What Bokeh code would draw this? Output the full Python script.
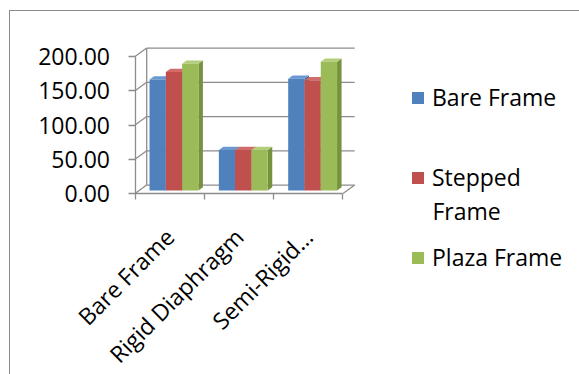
import math
from bokeh.plotting import figure
from bokeh.models import (Range1d, FixedTicker, NumeralTickFormatter, Legend,
                          LegendItem, Label)
from bokeh.embed import file_html
from bokeh.resources import INLINE

# ---- data ----
categories = ["Bare Frame", "Rigid Diaphragm", "Semi-Rigid…"]
series_names = ["Bare Frame", "Stepped Frame", "Plaza Frame"]
bare_frame = [162, 59, 163]
stepped_frame = [173, 59, 161]
plaza_frame = [185, 59, 188]
y_ticks = [0, 50, 100, 150, 200]

series = [bare_frame, stepped_frame, plaza_frame]
front_colors = ["#4F81BD", "#C0504D", "#9BBB59"]
side_colors = ["#3A6397", "#983C3A", "#77923F"]
top_colors = ["#6A98D0", "#D06C69", "#B2CE7A"]
grid_color = "#8C8C8C"
FONT = "Open Sans"
FS = "23px"

# ---- layout / pseudo-3D geometry ----
PXX, PXY = 69.33, 0.685    # pixels per data unit
LEFT_PX, RIGHT_PX = 124.5, 445.5
ABOVE_PX, BELOW_PX = 162, 182
DXW, DYW = 0.169, 12.3     # depth of back wall
DXB, DYB = 0.062, 4.4      # bar plane offset
W = 0.235                  # bar width
DDX, DDY = 0.065, 4.8      # bar depth
n = len(categories)
ymax = y_ticks[-1]

p = figure(width=570, height=364, output_backend="svg", toolbar_location=None,
           x_range=Range1d(-LEFT_PX / PXX, RIGHT_PX / PXX),
           y_range=Range1d(-BELOW_PX / PXY, ABOVE_PX / PXY),
           min_border_left=0, min_border_right=0, min_border_top=20,
           min_border_bottom=0, margin=(10, 0, 0, 9),
           styles={"border-left": "1.5px solid #8C8C8C",
                   "border-top": "1.5px solid #8C8C8C"})
p.outline_line_color = None
p.xgrid.visible = False
p.ygrid.visible = False

# walls
xs, ys = [], []
for v in y_ticks:
    xs.append([DXW, n + DXW]); ys.append([v + DYW, v + DYW])
    xs.append([0, DXW]); ys.append([v, v + DYW])
xs.append([DXW, DXW]); ys.append([DYW, ymax + DYW])
xs.append([n, n + DXW]); ys.append([0, DYW])
p.multi_line(xs, ys, line_color=grid_color, line_width=1.3)

# bars
renderers = []
for j, vals in enumerate(series):
    lefts, rights, bottoms, tops = [], [], [], []
    sx, sy, tx, ty = [], [], [], []
    for i, v in enumerate(vals):
        xl = i + 0.5 + DXB + (j - 1.5) * W
        xr = xl + W
        b = DYB
        t = DYB + v
        lefts.append(xl); rights.append(xr); bottoms.append(b); tops.append(t)
        sx.append([xr, xr + DDX, xr + DDX, xr]); sy.append([b, b + DDY, t + DDY, t])
        tx.append([xl, xr, xr + DDX, xl + DDX]); ty.append([t, t, t + DDY, t + DDY])
    p.patches(sx, sy, fill_color=side_colors[j], line_color=None)
    p.patches(tx, ty, fill_color=top_colors[j], line_color=None)
    r = p.quad(left=lefts, right=rights, bottom=bottoms, top=tops,
               fill_color=front_colors[j], line_color=None)
    renderers.append(r)

# axes
ya = p.yaxis[0]
ya.fixed_location = 0
ya.ticker = FixedTicker(ticks=y_ticks)
ya.formatter = NumeralTickFormatter(format="0.00")
ya.bounds = (0, ymax)
ya.axis_line_color = grid_color
ya.axis_line_width = 1.3
ya.major_tick_line_color = grid_color
ya.major_tick_line_width = 1.3
ya.major_tick_out = 7
ya.major_tick_in = 0
ya.minor_tick_line_color = None
ya.major_label_standoff = 18
ya.major_label_text_font = FONT
ya.major_label_text_font_size = FS
ya.major_label_text_color = "black"

xa = p.xaxis[0]
centers = [i + 0.5 for i in range(n)]
xa.fixed_location = 0
xa.ticker = FixedTicker(ticks=centers, minor_ticks=list(range(n + 1)))
xa.major_label_overrides = {c: lab for c, lab in zip(centers, categories)}
xa.bounds = (0, n)
xa.axis_line_color = grid_color
xa.axis_line_width = 1.3
xa.major_tick_line_color = None
xa.minor_tick_line_color = grid_color
xa.minor_tick_line_width = 1.3
xa.minor_tick_out = 6
xa.minor_tick_in = 0
xa.major_label_orientation = math.pi / 4
xa.major_label_standoff = 33
xa.major_label_text_font = FONT
xa.major_label_text_font_size = FS
xa.major_label_text_color = "black"

# legend (one block per entry, placed like the original)
leg_labels = ["Bare Frame", "Stepped", "Plaza Frame"]
locs = [(400, 262), (400, 182), (400, 102)]
for j, lab in enumerate(leg_labels):
    lg = Legend(items=[LegendItem(label=lab, renderers=[renderers[j]])],
                location=locs[j], padding=0, margin=0,
                border_line_color=None, background_fill_alpha=0,
                glyph_width=15, glyph_height=15, label_standoff=7,
                label_text_font=FONT, label_text_font_size=FS,
                label_text_color="black")
    p.add_layout(lg, "center")
p.add_layout(Label(x=422, y=165, x_units="screen", y_units="screen",
                   text="Frame", text_font=FONT, text_font_size=FS,
                   text_color="black", text_baseline="middle"))

open("out.html", "w").write(file_html(p, INLINE))
